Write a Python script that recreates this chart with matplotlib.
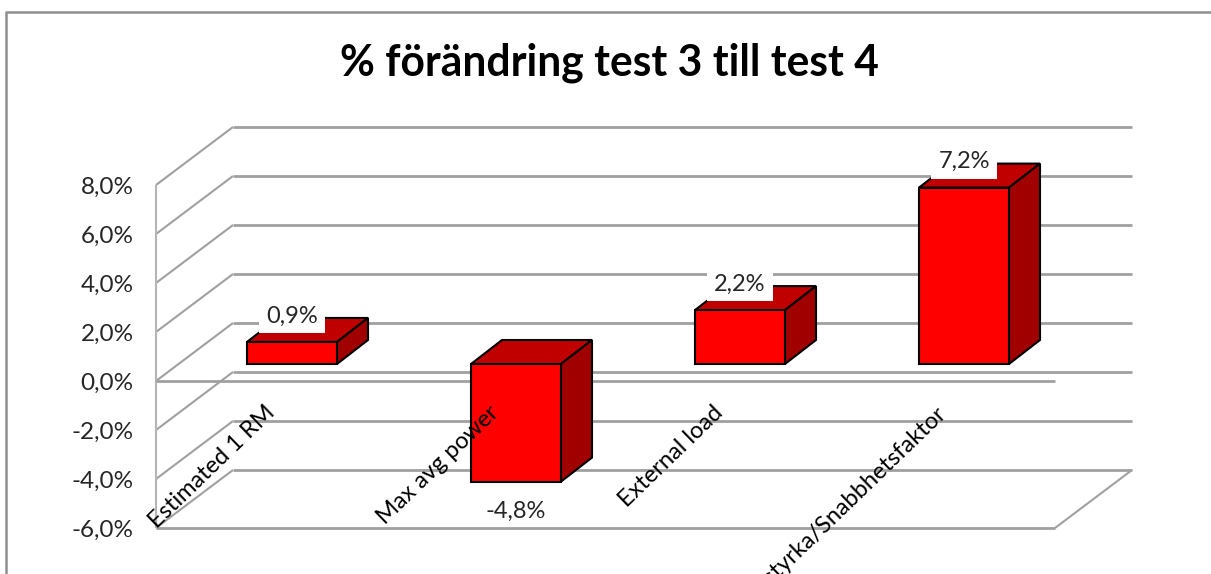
import matplotlib
matplotlib.use('Agg')
import matplotlib.pyplot as plt
from matplotlib.patches import Polygon, Rectangle

categories = ['Estimated 1 RM', 'Max avg power', 'External load', 'Maxstyrka/Snabbhetsfaktor']
values = [0.9, -4.8, 2.2, 7.2]
value_labels = ['0,9%', '-4,8%', '2,2%', '7,2%']
y_ticks = [-6, -4, -2, 0, 2, 4, 6, 8]
y_tick_labels = ['-6,0%', '-4,0%', '-2,0%', '0,0%', '2,0%', '4,0%', '6,0%', '8,0%']

plt.rcParams['font.family'] = ['Lato', 'DejaVu Sans']
plt.rcParams['lines.solid_capstyle'] = 'butt'

W, H = 1211, 574
fig = plt.figure(figsize=(W / 100, H / 100), dpi=100)
fig.patch.set_facecolor('white')

# chart border: only left and top are inside the crop
fig.add_artist(plt.Line2D([6 / W, 6 / W, 1], [0, 1 - 12 / H, 1 - 12 / H], transform=fig.transFigure,
                          color='#8f8f8f', lw=1.8))

fig.text(609 / W, 1 - 63 / H, '% förändring test 3 till test 4', ha='center', va='center',
         fontsize=30.7, fontweight='bold', color='black')

# front wall: x in pixels from the wall, y in percent
ax = fig.add_axes([156 / W, 1 - 528 / H, (1055 - 156) / W, (528 - 185) / H])
ax.set_xlim(0, 1055 - 156)
ax.set_ylim(-6, 8)
ax.patch.set_visible(False)
for s in ax.spines.values():
    s.set_visible(False)
ax.set_xticks([])
ax.set_yticks(y_ticks, y_tick_labels)
ax.tick_params(axis='y', length=0, pad=16, labelsize=17.5, labelcolor='#262626')

PX = 24.5  # pixels per percent
grid = '#a0a0a0'
depth_x, depth_y = 77, 58 / PX
width = 1055 - 156

for t in y_ticks:
    ax.plot([0, depth_x], [t, t + depth_y], color=grid, lw=1.5, clip_on=False, zorder=1)
    ax.plot([depth_x, depth_x + width], [t + depth_y, t + depth_y], color=grid, lw=2, clip_on=False, zorder=1)
ax.plot([0, 0], [-6, 8], color='#b5b5b5', lw=1.5, clip_on=False, zorder=1)
ax.plot([0, width], [0, 0], color=grid, lw=2, clip_on=False, zorder=2)
ax.plot([0, width], [-6, -6], color=grid, lw=2, clip_on=False, zorder=6)
ax.plot([width, width + depth_x], [-6, -6 + depth_y], color=grid, lw=1.5, clip_on=False, zorder=1)

# bars sit part way into the depth, so their base is lifted above the zero line
base = 17 / PX
bar_w = 90
bar_dx, bar_dy = 31, 24 / PX
for i, v in enumerate(values):
    x0 = 247 - 156 + 224 * i
    y0, y1 = base, base + v
    lo, hi = min(y0, y1), max(y0, y1)
    ax.add_patch(Rectangle((x0, lo), bar_w, hi - lo, facecolor='#ff0000', edgecolor='black', lw=1.5, zorder=4, clip_on=False))
    ax.add_patch(Polygon([(x0, hi), (x0 + bar_dx, hi + bar_dy), (x0 + bar_w + bar_dx, hi + bar_dy), (x0 + bar_w, hi)],
                         facecolor='#c00000', edgecolor='black', lw=1.5, zorder=3, clip_on=False))
    ax.add_patch(Polygon([(x0 + bar_w, lo), (x0 + bar_w + bar_dx, lo + bar_dy), (x0 + bar_w + bar_dx, hi + bar_dy), (x0 + bar_w, hi)],
                         facecolor='#a00000', edgecolor='black', lw=1.5, zorder=3, clip_on=False))
    label_off = 1.06 if v > 0 else -1.2
    ax.text(x0 + bar_w / 2, base + v + label_off, value_labels[i], ha='center', va='center', fontsize=17,
            color='#262626', zorder=5, bbox=dict(facecolor='white', edgecolor='none', pad=5))

# rotated category labels, top right end of each one
for i, name in enumerate(categories):
    ax.text(264 - 156 + 224 * i, (528 - 402) / PX - 6, name, rotation=44, rotation_mode='anchor', ha='right', va='top',
            fontsize=17, color='black', zorder=7, clip_on=False)

fig.savefig('out.png', dpi=100)
